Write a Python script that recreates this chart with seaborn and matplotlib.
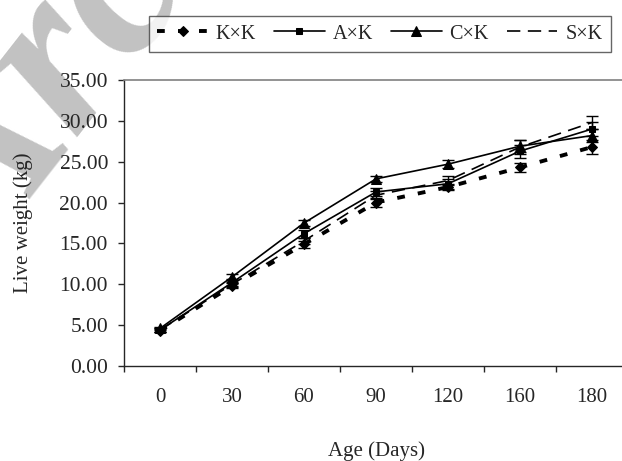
import numpy as np
import pandas as pd
import seaborn as sns
from matplotlib import pyplot as plt

# data
AGES = ['0', '30', '60', '90', '120', '160', '180']
CROSSES = ['K×K', 'A×K', 'C×K', 'S×K']

KK_MEAN = [4.3, 9.8, 14.9, 20.0, 21.9, 24.3, 26.8]
AK_MEAN = [4.4, 10.2, 16.2, 21.3, 22.3, 26.3, 29.0]
CK_MEAN = [4.6, 10.9, 17.5, 22.9, 24.7, 26.9, 28.2]
SK_MEAN = [4.4, 10.0, 15.3, 20.9, 22.7, 26.8, 29.8]

KK_ERR = [0.2, 0.3, 0.4, 0.5, 0.4, 0.6, 0.8]
AK_ERR = [0.2, 0.4, 0.5, 0.5, 0.6, 0.8, 0.9]
CK_ERR = [0.2, 0.4, 0.4, 0.4, 0.5, 0.7, 0.8]
SK_ERR = [0.2, 0.3, 0.4, 0.5, 0.5, 0.8, 0.8]

Y_TICKS = [0, 5, 10, 15, 20, 25, 30, 35]


def main():
    sns.set_style('ticks')
    plt.rcParams['font.family'] = ['Liberation Serif', 'DejaVu Serif']
    plt.rcParams['font.size'] = 15

    means = {'K×K': KK_MEAN, 'A×K': AK_MEAN, 'C×K': CK_MEAN, 'S×K': SK_MEAN}
    errs = {'K×K': KK_ERR, 'A×K': AK_ERR, 'C×K': CK_ERR, 'S×K': SK_ERR}

    rows = []
    for cross in CROSSES:
        for i, age in enumerate(AGES):
            rows.append({'cross': cross, 'pos': i, 'age': age,
                         'weight': means[cross][i], 'err': errs[cross][i]})
    df = pd.DataFrame(rows)

    # line look per cross
    styles = {
        'K×K': dict(lw=2.8, ls=(0, (2.0, 3.4)), marker='D', ms=5),
        'A×K': dict(lw=1.2, ls='-', marker='s', ms=5),
        'C×K': dict(lw=1.2, ls='-', marker='^', ms=7),
        'S×K': dict(lw=1.2, ls=(0, (8, 4.5)), marker=None, ms=0),
    }

    fig = plt.figure(figsize=(6.22, 4.61), dpi=100)
    fig.patch.set_facecolor('white')

    # watermark, behind everything (mostly off the page like the original)
    fig.text(-0.028, 0.405, 'Archive of SID', fontsize=170, color='#c2c2c2',
             style='italic', weight='bold', rotation=52, rotation_mode='anchor',
             ha='left', va='baseline', zorder=-5)

    ax = fig.add_axes([124 / 622, 95 / 461, 504 / 622, 286 / 461])
    ax.set_facecolor('none')

    for cross in CROSSES:
        sub = df[df['cross'] == cross]
        st = styles[cross]
        sns.lineplot(data=sub, x='pos', y='weight', color='black', lw=st['lw'],
                     linestyle=st['ls'], marker=st['marker'], ms=st['ms'],
                     mec='black', mfc='black', label=cross, errorbar=None,
                     legend=False, ax=ax)
        ax.errorbar(sub['pos'], sub['weight'], yerr=sub['err'], fmt='none',
                    ecolor='black', elinewidth=1.0, capsize=4.5, capthick=1.0)

    ax.set_xlim(-0.5, len(AGES) - 0.5)
    ax.set_ylim(0, 35)
    ax.set_yticks(Y_TICKS)
    ax.set_yticklabels([f'{v:.2f}' for v in Y_TICKS])
    ax.set_xticks(range(len(AGES)))
    ax.set_xticklabels(AGES)
    ax.set_xticks(np.arange(-0.5, len(AGES), 1.0), minor=True)
    ax.tick_params(axis='x', which='major', length=0, pad=16, labelsize=15)
    ax.tick_params(axis='x', which='minor', length=4.5, width=1, direction='out')
    ax.tick_params(axis='y', length=4.5, width=1, direction='out', pad=7, labelsize=15.5)

    ax.spines['right'].set_visible(False)
    ax.spines['top'].set_color('#808080')
    ax.spines['top'].set_linewidth(1.2)
    ax.spines['left'].set_linewidth(1.0)
    ax.spines['bottom'].set_linewidth(1.0)

    ax.set_xlabel('Age (Days)', fontsize=15)
    ax.set_ylabel('Live weight (kg)', fontsize=15)
    ax.xaxis.set_label_coords(0.5, -0.262)
    ax.yaxis.set_label_coords(-0.18, 0.5)

    handles, labels = ax.get_legend_handles_labels()
    leg = fig.legend(handles, labels, ncol=4, loc='center',
                     bbox_to_anchor=(380 / 622, 1 - 34 / 461), frameon=True,
                     fancybox=False, edgecolor='#404040', fontsize=14.5,
                     handlelength=2.5, handletextpad=0.4, columnspacing=0.9,
                     borderpad=0.4, borderaxespad=0)
    leg.get_frame().set_linewidth(1.0)

    fig.savefig('out.png', dpi=100)


if __name__ == '__main__':
    main()
